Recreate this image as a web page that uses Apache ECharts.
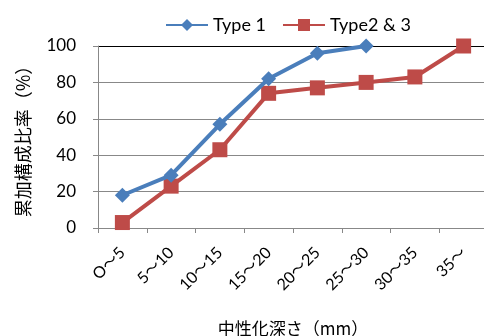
<!DOCTYPE html>
<html>
<head>
<meta charset="utf-8">
<script src="https://cdn.jsdelivr.net/npm/echarts@6/dist/echarts.min.js"></script>
<style>
  html, body { margin: 0; padding: 0; background: #fff; }
  #chart { width: 484px; height: 336px; }
</style>
</head>
<body>
<div id="chart"></div>
<script>
// Depth bins (mm) and cumulative share (%) per type
const categories = ['O～5', '5～10', '10～15', '15～20', '20～25', '25～30', '30～35', '35～'];
const type1 = [18, 29, 57, 82, 96, 100, null, null];
const type23 = [3, 23, 43, 74, 77, 80, 83, 100];
const yTicks = [0, 20, 40, 60, 80, 100];

const latin = 'Lato, "Noto Sans CJK JP", sans-serif';
const cjk = '"Noto Sans CJK JP", Lato, sans-serif';

const chart = echarts.init(document.getElementById('chart'));
chart.setOption({
  animation: false,
  backgroundColor: '#fff',
  legend: {
    top: 11,
    left: 160,
    itemWidth: 42,
    itemHeight: 15,
    itemGap: 16,
    textStyle: { fontFamily: latin, fontSize: 18, color: '#000' },
    data: ['Type 1', 'Type2 & 3']
  },
  grid: { left: 98, right: -4, top: 46, bottom: 108, containLabel: false, outerBoundsMode: 'none' },
  xAxis: {
    type: 'category',
    data: categories,
    boundaryGap: true,
    name: '中性化深さ（mm）',
    nameLocation: 'middle',
    nameGap: 92,
    nameTextStyle: { fontFamily: cjk, fontSize: 17, color: '#000' },
    axisLine: { lineStyle: { color: '#888', width: 1 } },
    axisTick: { show: true, length: 5, lineStyle: { color: '#888' } },
    axisLabel: {
      rotate: 45,
      interval: 0,
      margin: 22,
      fontFamily: latin,
      fontSize: 16,
      color: '#000'
    },
    splitLine: { show: false }
  },
  yAxis: {
    type: 'value',
    min: yTicks[0],
    max: yTicks[yTicks.length - 1],
    interval: 20,
    name: '累加構成比率（%）',
    nameLocation: 'middle',
    nameGap: 66,
    nameRotate: 90,
    nameTextStyle: { fontFamily: cjk, fontSize: 18, color: '#000' },
    axisLine: { show: true, lineStyle: { color: '#888', width: 1 } },
    axisTick: { show: true, length: 5, lineStyle: { color: '#888' } },
    axisLabel: { fontFamily: latin, fontSize: 17, color: '#000', margin: 22 },
    splitLine: {
      show: true,
      lineStyle: {
        color: ['#888', '#888', '#888', '#888', '#888', '#000'],
        width: 1
      }
    }
  },
  series: [
    {
      name: 'Type 1',
      type: 'line',
      data: type1,
      symbol: 'diamond',
      symbolSize: 15,
      color: '#4a7ebb',
      lineStyle: { width: 4, color: '#4a7ebb' },
      itemStyle: { color: '#4a7ebb' },
      z: 3
    },
    {
      name: 'Type2 & 3',
      type: 'line',
      data: type23,
      symbol: 'rect',
      symbolSize: 15,
      color: '#be4b48',
      lineStyle: { width: 4, color: '#be4b48' },
      itemStyle: { color: '#be4b48' },
      z: 2
    }
  ]
});
</script>
</body>
</html>
